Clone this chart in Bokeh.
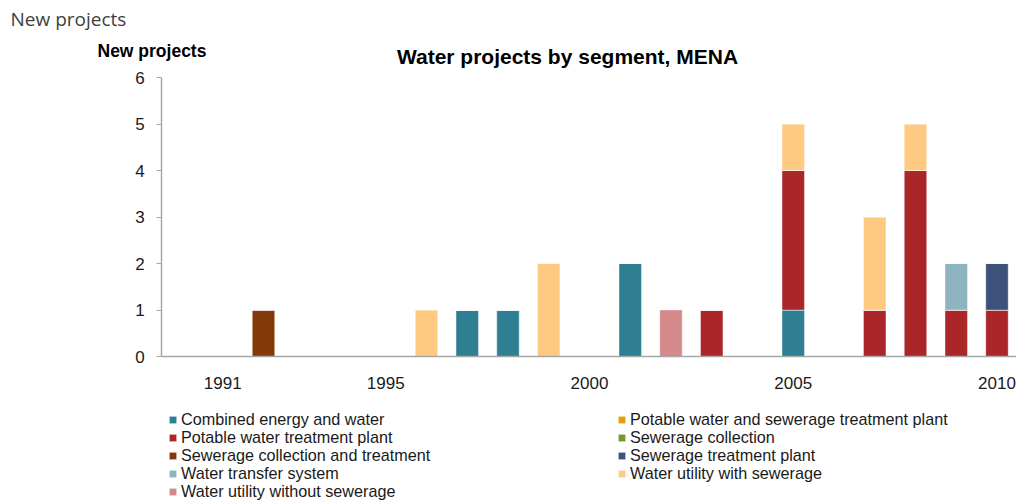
from bokeh.plotting import figure
from bokeh.models import (ColumnDataSource, FixedTicker, Legend, LegendItem, Label,
                          Range1d)
from bokeh.embed import file_html
from bokeh.resources import INLINE

# ---- data ----
years = [1992, 1996, 1997, 1998, 1999, 2001, 2002, 2003, 2005, 2007, 2008, 2009, 2010]
segments = [
    "Combined energy and water",
    "Potable water and sewerage treatment plant",
    "Potable water treatment plant",
    "Sewerage collection",
    "Sewerage collection and treatment",
    "Sewerage treatment plant",
    "Water transfer system",
    "Water utility with sewerage",
    "Water utility without sewerage",
]
combined_energy_water = [0, 0, 1, 1, 0, 2, 0, 0, 1, 0, 0, 0, 0]
potable_and_sewerage_plant = [0, 0, 0, 0, 0, 0, 0, 0, 0, 0, 0, 0, 0]
potable_water_plant = [0, 0, 0, 0, 0, 0, 0, 1, 3, 1, 4, 1, 1]
sewerage_collection = [0, 0, 0, 0, 0, 0, 0, 0, 0, 0, 0, 0, 0]
sewerage_collection_treatment = [1, 0, 0, 0, 0, 0, 0, 0, 0, 0, 0, 0, 0]
sewerage_treatment_plant = [0, 0, 0, 0, 0, 0, 0, 0, 0, 0, 0, 0, 1]
water_transfer_system = [0, 0, 0, 0, 0, 0, 0, 0, 0, 0, 0, 1, 0]
utility_with_sewerage = [0, 1, 0, 0, 2, 0, 0, 0, 1, 2, 1, 0, 0]
utility_without_sewerage = [0, 0, 0, 0, 0, 0, 1, 0, 0, 0, 0, 0, 0]
x_tick_years = [1991, 1995, 2000, 2005, 2010]
y_ticks = [0, 1, 2, 3, 4, 5, 6]

colors = ["#2E7F91", "#E3A009", "#AA2628", "#76972E", "#843A08",
          "#3C527A", "#8EB3C1", "#FEC981", "#D4898A"]

keys = ["s%d" % i for i in range(len(segments))]
series = [combined_energy_water, potable_and_sewerage_plant, potable_water_plant,
          sewerage_collection, sewerage_collection_treatment, sewerage_treatment_plant,
          water_transfer_system, utility_with_sewerage, utility_without_sewerage]
data = {"year": years}
for k, s in zip(keys, series):
    data[k] = s
source = ColumnDataSource(data)

FONT = "Liberation Sans"
W, H = 1016, 501

# frame covers the whole canvas; axes are placed at fixed locations
p = figure(width=W, height=H, output_backend="svg", toolbar_location=None,
           x_range=Range1d(1985.546, 2010.479), y_range=Range1d(-3.118, 7.656),
           min_border=0, min_border_left=0, min_border_right=0,
           min_border_top=0, min_border_bottom=0)
p.outline_line_color = None
p.grid.grid_line_color = None

rs = p.vbar_stack(keys, x="year", width=0.55, source=source, color=colors,
                  line_color="white", line_width=0.6, line_alpha=0.6)

# axes
p.xaxis.fixed_location = 0
p.yaxis.fixed_location = 1989.5
p.xaxis.bounds = (1989.5, 2010.5)
p.yaxis.bounds = (0, 6)
p.xaxis.ticker = FixedTicker(ticks=x_tick_years)
p.yaxis.ticker = FixedTicker(ticks=y_ticks)
for ax in (p.xaxis[0], p.yaxis[0]):
    ax.axis_line_color = "#A6A6A6"
    ax.axis_line_width = 1.5
    ax.major_label_text_font = FONT
    ax.major_label_text_font_size = "17px"
    ax.major_label_text_color = "#1a1a1a"
    ax.minor_tick_line_color = None
p.xaxis.major_tick_line_color = None
p.xaxis.major_tick_out = 0
p.xaxis.major_tick_in = 0
p.xaxis.major_label_standoff = 20
p.yaxis.major_tick_line_color = "#A6A6A6"
p.yaxis.major_tick_out = 5
p.yaxis.major_tick_in = 0
p.yaxis.major_label_standoff = 12

# texts (screen units, from canvas bottom-left)
p.add_layout(Label(x=10, y=H - 18, x_units="screen", y_units="screen",
                   text="New projects", text_font="Open Sans", text_font_size="19px",
                   text_color="#404040", text_baseline="middle"))
p.add_layout(Label(x=97, y=H - 50, x_units="screen", y_units="screen",
                   text="New projects", text_font=FONT, text_font_size="17.5px",
                   text_font_style="bold", text_color="#000000", text_baseline="middle"))
p.add_layout(Label(x=567, y=H - 56, x_units="screen", y_units="screen",
                   text="Water projects by segment, MENA", text_font=FONT,
                   text_font_size="21px", text_font_style="bold", text_color="#000000",
                   text_baseline="middle", text_align="center"))

# legend: one horizontal legend per row, two columns
rows = [(0, 1), (2, 3), (4, 5), (6, 7), (8,)]
ROW_H = 18
ROW_STEP = 18.2
for r, idx in enumerate(rows):
    center = 419.5 + r * ROW_STEP
    items = [LegendItem(label=segments[i], renderers=[rs[i]]) for i in idx]
    lg = Legend(items=items, location=(168, H - center - ROW_H / 2),
                orientation="horizontal",
                glyph_width=9, glyph_height=9, label_standoff=4, spacing=0,
                label_width=436, label_height=ROW_H, padding=0, margin=0,
                label_text_font=FONT, label_text_font_size="16.2px",
                label_text_color="#1a1a1a",
                border_line_color=None, background_fill_alpha=0)
    p.add_layout(lg, "center")

open("out.html", "w").write(file_html(p, INLINE))
